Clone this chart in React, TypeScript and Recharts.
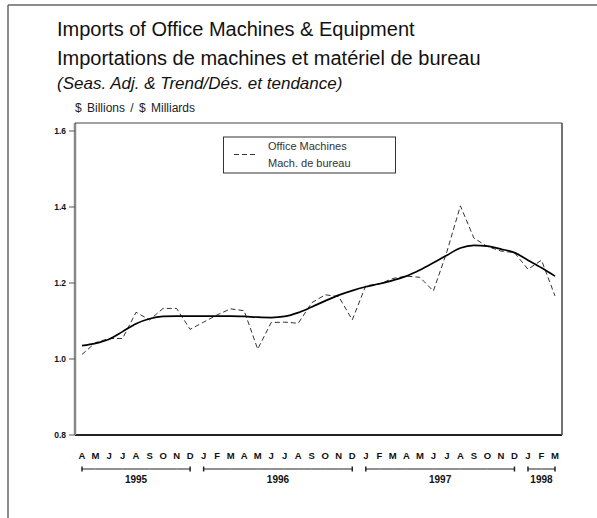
import { CartesianGrid, Line, LineChart, XAxis, YAxis } from "recharts";

const W = 597;
const H = 518;
const PLOT_LEFT = 75;
const PLOT_TOP = 123;
const PLOT_RIGHT = 562;
const PLOT_BOTTOM = 435;
const X_PAD = 7;

const FONT = "'Liberation Sans', Arial, Helvetica, sans-serif";

// Apr 1995 .. Mar 1998
const monthLetters = [
  "A", "M", "J", "J", "A", "S", "O", "N", "D",
  "J", "F", "M", "A", "M", "J", "J", "A", "S", "O", "N", "D",
  "J", "F", "M", "A", "M", "J", "J", "A", "S", "O", "N", "D",
  "J", "F", "M"
];

const yearLabels = ["1995", "1996", "1997", "1998"];
const monthsPerYear = [9, 12, 12, 3];

// seasonally adjusted imports ($ billions)
const officeMachines = [
  1.012, 1.043, 1.054, 1.054, 1.123, 1.103, 1.133, 1.133, 1.078,
  1.097, 1.116, 1.132, 1.127, 1.026, 1.096, 1.097, 1.094, 1.148, 1.169, 1.164, 1.103,
  1.193, 1.197, 1.212, 1.218, 1.215, 1.179, 1.282, 1.403, 1.318, 1.296, 1.284, 1.28,
  1.236, 1.26, 1.166
];

// trend
const trend = [
  1.035, 1.041, 1.052, 1.072, 1.093, 1.106, 1.112, 1.113, 1.113,
  1.113, 1.113, 1.113, 1.112, 1.11, 1.109, 1.112, 1.122, 1.137, 1.153, 1.168, 1.18,
  1.19, 1.198, 1.207, 1.218, 1.234, 1.253, 1.273, 1.292, 1.299, 1.297, 1.289, 1.28,
  1.26, 1.24, 1.218
];

const yTicks = [0.8, 1.0, 1.2, 1.4, 1.6];

const data = monthLetters.map((m, i) => ({
  key: `m${i}`,
  letter: m,
  sa: officeMachines[i],
  trend: trend[i]
}));

const STEP = (PLOT_RIGHT - PLOT_LEFT - 2 * X_PAD) / (monthLetters.length - 1);

// where each year group starts
const yearStarts = monthsPerYear.map((_, g) =>
  monthsPerYear.slice(0, g).reduce((a, b) => a + b, 0)
);

function MonthTick(props: any) {
  const { x, y, payload } = props;
  const i: number = payload.index ?? props.index;
  const g = yearStarts.findIndex((s, k) => i >= s && i < s + monthsPerYear[k]);
  const start = yearStarts[g];
  const end = start + monthsPerYear[g] - 1;
  const lineY = y + 34;
  return (
    <g>
      <text
        x={x}
        y={y + 24}
        textAnchor="middle"
        fontFamily={FONT}
        fontWeight="bold"
        fontSize={9.5}
        fill="#111"
      >
        {monthLetters[i]}
      </text>
      {i < end && (
        <line x1={x} x2={x + STEP} y1={lineY} y2={lineY} stroke="#222" strokeWidth={1} />
      )}
      {(i === start || i === end) && (
        <line x1={x} x2={x} y1={lineY - 2.5} y2={lineY + 2.5} stroke="#222" strokeWidth={1.5} />
      )}
      {i === start && (
        <text
          x={x + ((end - start) * STEP) / 2}
          y={y + 48}
          textAnchor="middle"
          fontFamily={FONT}
          fontWeight="bold"
          fontSize={10}
          fill="#111"
        >
          {yearLabels[g]}
        </text>
      )}
    </g>
  );
}

function ValueTick(props: any) {
  const { y, payload } = props;
  return (
    <text
      x={66}
      y={y + 3}
      textAnchor="end"
      fontFamily={FONT}
      fontWeight="bold"
      fontSize={8.5}
      fill="#111"
    >
      {Number(payload.value).toFixed(1)}
    </text>
  );
}

export default function App() {
  return (
    <div style={{ position: "absolute", left: 0, top: 0, width: W, height: H, background: "#fff" }}>
      <LineChart
        width={W}
        height={H}
        data={data}
        margin={{ top: PLOT_TOP, right: W - PLOT_RIGHT, bottom: 0, left: 0 }}
      >
        <CartesianGrid stroke="none" />
        <XAxis
          dataKey="key"
          interval={0}
          height={H - PLOT_BOTTOM}
          padding={{ left: X_PAD, right: X_PAD }}
          axisLine={{ stroke: "#222", strokeWidth: 2 }}
          tickLine={false}
          tickSize={0}
          tickMargin={0}
          tick={<MonthTick />}
        />
        <YAxis
          width={PLOT_LEFT}
          domain={[0.8, 1.621]}
          ticks={yTicks}
          allowDataOverflow
          axisLine={{ stroke: "#888", strokeWidth: 2.5 }}
          tickLine={{ stroke: "#555", strokeWidth: 1 }}
          tickSize={6}
          tick={<ValueTick />}
        />
        <Line
          type="linear"
          dataKey="sa"
          stroke="#333"
          strokeWidth={1}
          strokeDasharray="5 3"
          dot={false}
          isAnimationActive={false}
        />
        <Line
          type="monotone"
          dataKey="trend"
          stroke="#000"
          strokeWidth={1.7}
          dot={false}
          isAnimationActive={false}
        />
      </LineChart>

      <svg
        width={W}
        height={H}
        style={{ position: "absolute", left: 0, top: 0, pointerEvents: "none" }}
      >
        {/* outer frame */}
        <line x1={8} x2={W} y1={5} y2={5} stroke="#666" strokeWidth={1.5} />
        <line x1={8} x2={8} y1={5} y2={H} stroke="#666" strokeWidth={1.5} />

        {/* plot box top and right */}
        <line x1={PLOT_LEFT} x2={PLOT_RIGHT} y1={PLOT_TOP} y2={PLOT_TOP} stroke="#444" strokeWidth={1} />
        <line x1={PLOT_RIGHT} x2={PLOT_RIGHT} y1={PLOT_TOP} y2={PLOT_BOTTOM} stroke="#444" strokeWidth={1.5} />

        <text x={57} y={36} fontFamily={FONT} fontSize={20} fill="#111">
          Imports of Office Machines &amp; Equipment
        </text>
        <text x={57} y={65} fontFamily={FONT} fontSize={20} fill="#111">
          Importations de machines et matériel de bureau
        </text>
        <text x={57} y={89} fontFamily={FONT} fontSize={17} fontStyle="italic" fill="#111">
          (Seas. Adj. &amp; Trend/Dés. et tendance)
        </text>
        <text x={75} y={112} fontFamily={FONT} fontSize={12} wordSpacing={2} fill="#222">
          $ Billions / $ Milliards
        </text>

        {/* legend */}
        <rect x={223.5} y={137} width={172} height={36} fill="#fff" stroke="#333" strokeWidth={1} />
        <line x1={234} x2={258} y1={154.5} y2={154.5} stroke="#333" strokeWidth={1} strokeDasharray="5 3" />
        <text x={268} y={150} fontFamily={FONT} fontSize={11} fill="#333">
          Office Machines
        </text>
        <text x={268} y={167} fontFamily={FONT} fontSize={11} fill="#333">
          Mach. de bureau
        </text>
      </svg>
    </div>
  );
}
